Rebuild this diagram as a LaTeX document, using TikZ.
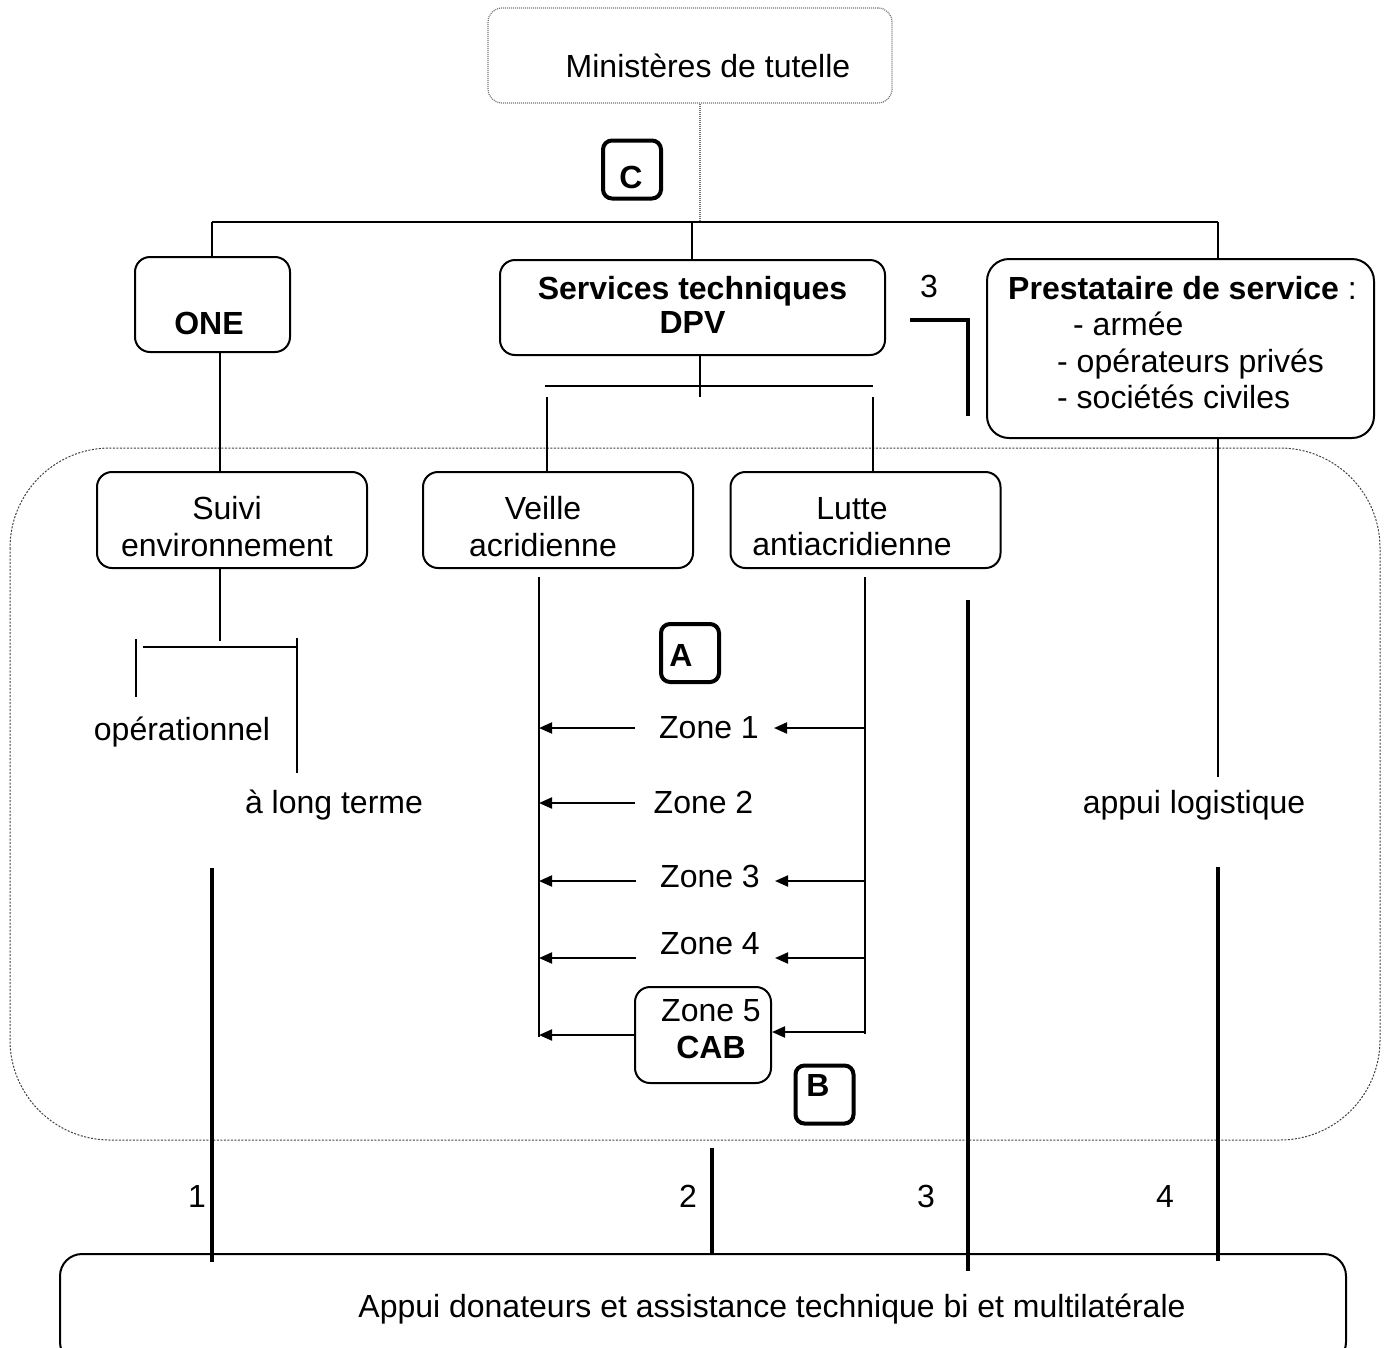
\documentclass[tikz,border=0pt]{standalone}
\usepackage{fontspec}
\setmainfont{Liberation Sans}
\usetikzlibrary{arrows.meta,positioning}
\tikzset{
  box/.style    ={draw,line width=2pt,rounded corners=15pt,inner sep=0pt},
  dotbox/.style ={draw=black!55,dash pattern=on 1pt off 1pt,line width=1.2pt,rounded corners=14pt,inner sep=0pt},
  tagbox/.style ={draw,line width=4pt,rounded corners=9pt,inner sep=0pt,minimum width=58pt,minimum height=58pt},
  txt/.style    ={inner sep=0pt,align=center},
  bold/.style   ={font=\fontsize{32}{36.5}\selectfont\bfseries},
  lnk/.style    ={line width=2pt},
  heavy/.style  ={line width=4.5pt},
  dotln/.style  ={draw=black!55,dash pattern=on 1pt off 1pt,line width=1.2pt},
  field/.style  ={draw=black!75,dash pattern=on 2pt off 1.5pt,line width=1pt,rounded corners=100pt},
  ar/.style     ={line width=2pt,-{Triangle[length=13pt,width=11pt]}},
}
\begin{document}
\begin{tikzpicture}[x=1pt,y=-1pt,font=\fontsize{32}{36.5}\selectfont]
  \useasboundingbox (0,0) rectangle (1388,1347);
  \clip (0,0) rectangle (1388,1347);

  % ministries and first level
  \node[dotbox,minimum width=404pt,minimum height=95pt] (mint) at (690,55.5) {};
  \node[txt] (mintT) at (708,66) {Ministères de tutelle};
  \node[tagbox] (cbox) at (632,169.5) {};
  \node[txt,bold] (cL) at (631,177) {C};

  \node[box,minimum width=155pt,minimum height=95pt] (one) at (212.5,304.5) {};
  \node[txt,bold] (oneT) at (209,323) {ONE};
  \node[box,minimum width=385pt,minimum height=95pt] (dpv) at (692.5,307.5) {};
  \node[txt,bold] (dpvT) at (692.5,305) {Services techniques\\[-2.5pt]DPV};
  \node[box,rounded corners=22pt,minimum width=387pt,minimum height=179pt] (prest) at (1180.5,348.5) {};
  \node[txt,align=left,anchor=north west] (prestT) at (1008,276)
    {\textbf{Prestataire de service} :\\\hspace*{65pt}- armée\\\hspace*{49pt}- opérateurs privés\\\hspace*{49pt}- sociétés civiles};
  \node[txt] (n3top) at (929,286) {3};

  \coordinate (barL) at (212,222);
  \coordinate (barM) at (692,222);
  \coordinate (barR) at (1218,222);
  \coordinate (dotE) at (700,222);
  \draw[dotln] (dotE |- mint.south) -- (dotE);
  \draw[lnk] (barL) -- (barR);
  \draw[lnk] (barL) -- (barL |- one.north);
  \draw[lnk] (barM) -- (barM |- dpv.north);
  \draw[lnk] (barR) -- (barR |- prest.north);
  \draw[heavy] (910,320) -- (968,320) -- (968,416);

  % field frame
  \draw[field] (10,448) rectangle (1380,1140);

  % second level
  \node[box,minimum width=270pt,minimum height=96pt] (suivi) at (232,520) {};
  \node[txt] (suiviT) at (227,526.5) {Suivi\\environnement};
  \node[box,minimum width=270pt,minimum height=96pt] (veille) at (558,520) {};
  \node[txt] (veilleT) at (543,526.5) {Veille\\acridienne};
  \node[box,minimum width=270pt,minimum height=96pt] (lutte) at (865.5,520) {};
  \node[txt] (lutteT) at (852,526.5) {Lutte\\antiacridienne};

  \coordinate (oneX) at (219.5,0);
  \draw[lnk] (oneX |- one.south) -- (oneX |- suivi.north);
  \coordinate (dpvX) at (700,0);
  \coordinate (vtick) at (547,397);
  \coordinate (ltick) at (873,397);
  \draw[lnk] (dpvX |- dpv.south) -- (700,397);
  \draw[lnk] (545,386) -- (873,386);
  \draw[lnk] (vtick) -- (vtick |- veille.north);
  \draw[lnk] (ltick) -- (ltick |- lutte.north);

  % environment branch
  \draw[lnk] (oneX |- suivi.south) -- (219.5,641);
  \draw[lnk] (143,647) -- (297,647);
  \draw[lnk] (136,639) -- (136,697);
  \draw[lnk] (297,638) -- (297,773);
  \node[txt] (oper) at (182,732) {opérationnel};
  \node[txt] (longt) at (334,805) {à long terme};

  % zones
  \coordinate (vl) at (539,0);
  \coordinate (ll) at (865,0);
  \draw[lnk] (539,577) -- (539,1037);
  \draw[lnk] (865,577) -- (865,1034);
  \node[tagbox] (abox) at (690,653) {};
  \node[txt,bold] (aL) at (681,655) {A};

  \node[txt] (z1) at (709,728) {Zone 1};
  \node[txt] (z2) at (703.5,802) {Zone 2};
  \node[txt] (z3) at (710,876) {Zone 3};
  \node[txt] (z4) at (710,944) {Zone 4};
  \node[box,minimum width=136pt,minimum height=96pt] (z5) at (703,1035) {};
  \node[txt] (z5T) at (711,1029) {Zone 5\\\textbf{CAB}};
  \node[tagbox] (bbox) at (824.5,1094.5) {};
  \node[txt,bold] (bL) at (818,1085) {B};

  \draw[ar] ([shift={(-24pt,0pt)}]z1.west) coordinate (a1) -- (a1 -| vl);
  \draw[ar] (a1 -| ll) -- ([shift={(15pt,0pt)}]z1.east);
  \draw[ar] ([shift={(-18pt,-1pt)}]z2.west) coordinate (a2) -- (a2 -| vl);
  \draw[ar] ([shift={(-24pt,-5pt)}]z3.west) coordinate (a3) -- (a3 -| vl);
  \draw[ar] (a3 -| ll) -- ([shift={(15pt,-5pt)}]z3.east);
  \draw[ar] ([shift={(-24pt,-14pt)}]z4.west) coordinate (a4) -- (a4 -| vl);
  \draw[ar] (a4 -| ll) -- ([shift={(15pt,-14pt)}]z4.east);
  \draw[ar] (z5.west) -- (z5.west -| vl);
  \draw[ar] ([yshift=3pt]z5.east -| ll) coordinate (a5) -- (a5 -| z5.east);

  % logistics
  \draw[lnk] (barR |- prest.south) -- (1218,777);
  \node[txt] (logi) at (1194,805) {appui logistique};

  % donors
  \node[box,rounded corners=22pt,minimum width=1286pt,minimum height=110pt] (don) at (703,1309) {};
  \node[txt] (donT) at (772,1309) {Appui donateurs et assistance technique bi et multilatérale};
  \coordinate (s1) at (212,868);
  \coordinate (s2) at (712,1148);
  \coordinate (s3) at (968,600);
  \coordinate (s4) at (1218,867);
  \draw[heavy] (s1) -- (s1 |- don.north) -- ++(0,9);
  \draw[heavy] (s2) -- (s2 |- don.north) -- ++(0,1);
  \draw[heavy] (s3) -- (s3 |- don.north) -- ++(0,18);
  \draw[heavy] (s4) -- (s4 |- don.north) -- ++(0,8);
  \node[txt] (n1) at (197,1196) {1};
  \node[txt] (n2) at (688,1196) {2};
  \node[txt] (n3) at (926,1196) {3};
  \node[txt] (n4) at (1165,1196) {4};
\end{tikzpicture}
\end{document}
